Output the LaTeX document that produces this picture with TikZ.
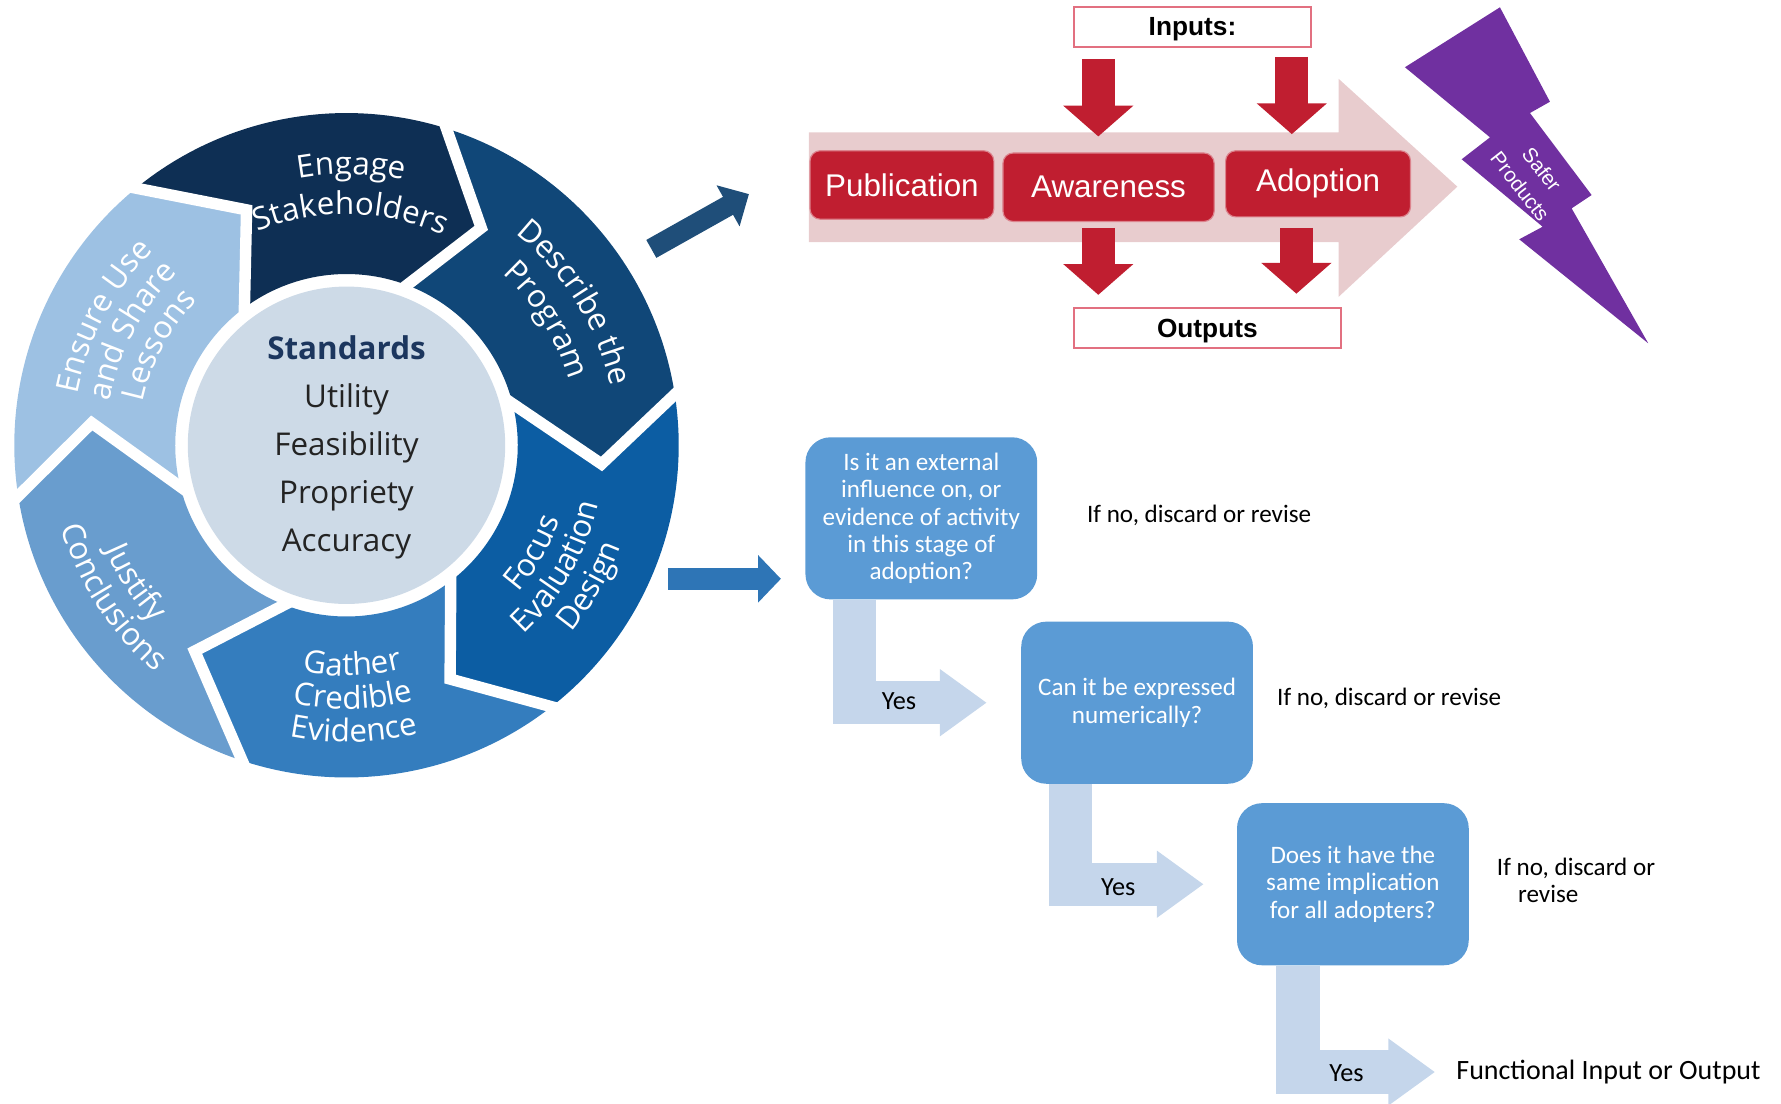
\documentclass[tikz,border=0pt]{standalone}
\usepackage{fontspec}
\usepackage{tikz}
\usetikzlibrary{arrows.meta,calc,decorations.text}

\newfontfamily\arialfam{Liberation Sans}
\newfontfamily\calfam{Carlito}
\newfontfamily\segfam{Open Sans}
\newcommand{\segtxt}{\segfam\fontsize{27.5}{30}\selectfont}

\definecolor{segA}{RGB}{14,47,84}
\definecolor{segB}{RGB}{16,71,120}
\definecolor{segC}{RGB}{12,93,163}
\definecolor{segD}{RGB}{52,125,190}
\definecolor{segE}{RGB}{105,157,206}
\definecolor{segF}{RGB}{157,193,227}
\definecolor{hub}{RGB}{205,218,231}
\definecolor{hubtitle}{RGB}{28,54,94}
\definecolor{hubtext}{RGB}{35,35,35}
\definecolor{flowpink}{RGB}{232,204,206}
\definecolor{flowred}{RGB}{192,30,48}
\definecolor{boxedge}{RGB}{226,112,128}
\definecolor{bolt}{RGB}{112,48,160}
\definecolor{arrowdark}{RGB}{31,78,121}
\definecolor{arrowmid}{RGB}{46,117,182}
\definecolor{qfill}{RGB}{91,155,213}
\definecolor{yesfill}{RGB}{197,214,235}

\newcommand{\seg}[7]{\fill[#1] (#2:291) arc[start angle=#2,end angle=#5,radius=291] -- (#6:224) -- (#7:150) arc[start angle=#7,end angle=#4,radius=150] -- (#3:224) -- cycle;}
\newcommand{\segsep}[3]{\draw[white,line width=10] ($(#2:224)!1.2!(#3:150)$) -- (#2:224) -- ($(#2:224)!1.2!(#1:291)$);}
\newcommand{\cwtext}[3]{\path[decorate,decoration={text along path,text align=center,text color=white,text={|\segtxt|#3}}] (#1+50:#2) arc[start angle=#1+50,end angle=#1-50,radius=#2];}
\newcommand{\ccwtext}[3]{\path[decorate,decoration={text along path,text align=center,text color=white,text={|\segtxt|#3}}] (#1-50:#2) arc[start angle=#1-50,end angle=#1+50,radius=#2];}

\begin{document}
\begin{tikzpicture}[x=1pt,y=1pt,
    redarrow/.style={flowred,line width=29,-{Triangle[width=60pt,length=27pt]}},
    yesarrow/.style={yesfill,line width=38,-{Triangle[width=56pt,length=41pt]}},
    note/.style={anchor=west,inner sep=0,font=\calfam\fontsize{22}{24}\selectfont}]
\useasboundingbox (0,0) rectangle (1560,-967);

\begin{scope}[shift={(303.5,-390)}]
    \seg{segA}{129.3}{113}{126.6}{72.5}{58.2}{69.3}
    \seg{segB}{72.5}{58.2}{69.3}{8.8}{-4.2}{14}
    \seg{segC}{8.8}{-4.2}{14}{-51.9}{-66.1}{-52.5}
    \seg{segD}{-51.9}{-66.1}{-52.5}{-108.3}{-126.4}{-111.3}
    \seg{segE}{-108.3}{-126.4}{-111.3}{-171.2}{-185}{-166}
    \seg{segF}{-171.2}{-185}{-166}{-230.7}{-247}{-233.4}
    \segsep{129.3}{113}{126.6}
    \segsep{72.5}{58.2}{69.3}
    \segsep{8.8}{-4.2}{14}
    \segsep{-51.9}{-66.1}{-52.5}
    \segsep{-108.3}{-126.4}{-111.3}
    \segsep{-171.2}{-185}{-166}
    \fill[hub] (0,0) circle[radius=139];
    \cwtext{89}{237.5}{Engage}
    \cwtext{89}{202.4}{Stakeholders}
    \cwtext{32}{237}{Describe the}
    \cwtext{32}{203}{Program}
    \ccwtext{-30}{198}{Focus}
    \ccwtext{-30}{227}{Evaluation}
    \ccwtext{-30}{256}{Design}
    \ccwtext{-88.5}{202}{Gather}
    \ccwtext{-88.5}{231}{Credible}
    \ccwtext{-88.5}{260}{Evidence}
    \ccwtext{-147}{230}{Justify}
    \ccwtext{-147}{260}{Conclusions}
    \cwtext{152}{240}{Ensure Use}
    \cwtext{152}{211}{and Share}
    \cwtext{152}{182}{Lessons}
\end{scope}
\node[align=center,text=hubtext,font=\segfam\fontsize{27.5}{42}\selectfont] (std) at (303.5,-391.5)
    {\textcolor{hubtitle}{\bfseries Standards}\\Utility\\Feasibility\\Propriety\\Accuracy};

\coordinate (a1) at (570.5,-218);
\coordinate (a2) at (656,-170);
\coordinate (b1) at (585,-507);
\coordinate (b2) at (684,-507);
\draw[arrowdark,line width=18,-{Triangle[width=40pt,length=21pt]}] (a1) -- (a2);
\draw[arrowmid,line width=19,-{Triangle[width=40.5pt,length=20pt]}] (b1) -- (b2);

\fill[flowpink] (708.5,-116) -- (1172.5,-116) -- (1172.5,-69) -- (1276.5,-163.5) -- (1172.5,-260) -- (1172.5,-212) -- (708.5,-212) -- cycle;
\fill[bolt] (1313.8,-6.4) -- (1357.6,-89.1) -- (1340.1,-99) -- (1394.1,-170.8) -- (1376.6,-182.5) -- (1443.7,-300.7)
    -- (1330.7,-209.6) -- (1351.2,-198.6) -- (1280.3,-139.5) -- (1305.1,-120.3) -- (1230.6,-58.9) -- cycle;
\node[rotate=-52,text=white,align=center,inner sep=0,font=\arialfam\fontsize{18}{24}\selectfont] (safer) at (1341,-155.8) {Safer\\Products};

\begin{scope}[every node/.style={fill=flowred,draw=flowred!55!white,line width=1,rounded corners=9,text=white,inner sep=0,minimum height=60,font=\arialfam\fontsize{27.5}{30}\selectfont}]
    \node[minimum width=161] (pub) at (790,-162) {Publication};
    \node[minimum width=185] (aware) at (971,-164) {Awareness};
    \node[minimum width=162,minimum height=58] (adopt) at (1154.5,-161) {Adoption};
\end{scope}
\begin{scope}[every node/.style={draw=boxedge,line width=1.5,fill=white,inner sep=0,minimum height=35,text depth=0pt,font=\arialfam\bfseries\fontsize{23}{26}\selectfont}]
    \node[minimum width=208] (inputs) at (1044.5,-23.5) {Inputs:};
    \node[minimum width=234] (outputs) at (1057.5,-287.5) {Outputs};
\end{scope}

\draw[redarrow] ([xshift=-82.5pt,yshift=-10pt]inputs.south) -- ([xshift=-9pt,yshift=14pt]aware.north);
\draw[redarrow] ([xshift=87pt,yshift=-8pt]inputs.south) -- ([xshift=-23pt,yshift=14pt]adopt.north);
\draw[redarrow] ([xshift=-9pt,yshift=-5pt]aware.south) -- ([xshift=-95.5pt,yshift=11pt]outputs.north);
\draw[redarrow] ([xshift=-19pt,yshift=-9pt]adopt.south) -- ([xshift=78pt,yshift=12pt]outputs.north);

\begin{scope}[every node/.style={fill=qfill,rounded corners=22,minimum width=203,minimum height=142,inner sep=0,align=center,text=white,font=\calfam\fontsize{22}{24}\selectfont}]
    \node (q1) at (807,-454) {Is it an external\\influence on, or\\evidence of activity\\in this stage of\\adoption?};
    \node (q2) at (996,-615.5) {Can it be expressed\\numerically?};
    \node (q3) at (1185,-774.5) {Does it have the\\same implication\\for all adopters?};
\end{scope}

\node[note] (no1) at (952,-451) {If no, discard or revise};
\node[note] (no2) at (1118.5,-612) {If no, discard or revise};
\node[note,align=left] (no3) at (1311,-771) {If no, discard or\\\hspace*{18.5pt}revise};
\node[note,font=\calfam\fontsize{24.5}{28}\selectfont] (fio) at (1275.5,-939) {Functional Input or Output};

\draw[yesarrow] ([xshift=-58.5pt]q1.south) |- ([xshift=-30pt]q2.west);
\draw[yesarrow] ([xshift=-58.5pt]q2.south) |- ([xshift=-29pt]q3.west);
\draw[yesarrow] ([xshift=-48pt]q3.south) |- ([xshift=-18.5pt]fio.west);

\begin{scope}[every node/.style={inner sep=0,font=\calfam\fontsize{23}{26}\selectfont}]
    \node (yes1) at (787.5,-614) {Yes};
    \node (yes2) at (979.5,-777) {Yes};
    \node (yes3) at (1179.5,-940) {Yes};
\end{scope}
\end{tikzpicture}
\end{document}
